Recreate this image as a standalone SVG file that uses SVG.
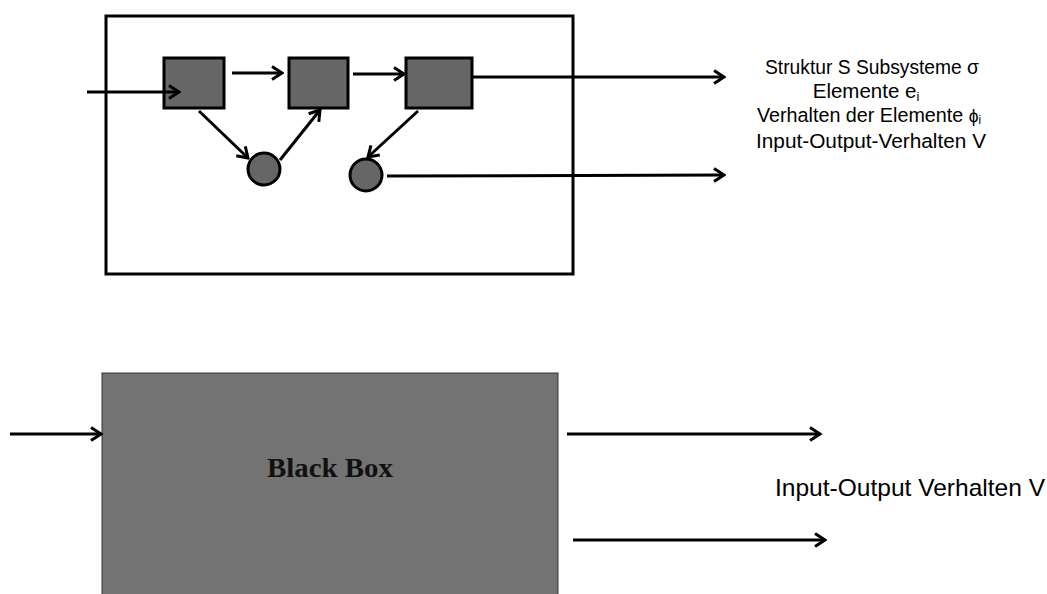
<svg xmlns="http://www.w3.org/2000/svg" width="1047" height="594" viewBox="0 0 1047 594">
<style>
.frame{fill:#fff;stroke:#000;stroke-width:3}
.node{fill:#666;stroke:#000;stroke-width:3}
.con{fill:none;stroke:#000;stroke-width:3;marker-end:url(#arr)}
.lbl{font-family:"Liberation Sans",Arial,sans-serif;font-size:20.5px;fill:#000;text-anchor:middle}
.lbl2{font-family:"Liberation Sans",Arial,sans-serif;font-size:24px;fill:#000}
.bb{font-family:"Liberation Serif","Times New Roman",serif;font-weight:bold;font-size:28px;fill:#111;text-anchor:middle}
</style>
<defs>
<marker id="arr" markerUnits="userSpaceOnUse" viewBox="-12 -8 14 16" markerWidth="14" markerHeight="16" refX="0" refY="0" orient="auto">
<path d="M-10,-6.5 L0,0 L-10,6.5" fill="none" stroke="#000" stroke-width="3"/>
</marker>
</defs>
<rect width="1047" height="594" fill="#fff"/>
<g id="system">
<rect class="frame" x="106" y="16" width="467" height="258"/>
</g>
<g id="s1"><rect class="node" x="164" y="58" width="60" height="50"/></g>
<g id="s2"><rect class="node" x="289" y="58" width="59" height="50"/></g>
<g id="s3"><rect class="node" x="406" y="58" width="66" height="50"/></g>
<g id="c1"><circle class="node" cx="264" cy="169" r="16"/></g>
<g id="c2"><circle class="node" cx="366" cy="175" r="16"/></g>
<g id="blackbox">
<rect x="102" y="373" width="456" height="225" fill="#737373" stroke="#333" stroke-width="1"/>
<text class="bb" x="330" y="477" textLength="126" lengthAdjust="spacingAndGlyphs">Black Box</text>
</g>
<g id="connectors">
<line class="con" x1="87" y1="92" x2="179" y2="92"/>
<line class="con" x1="232" y1="73" x2="282" y2="73"/>
<line class="con" x1="353" y1="74" x2="404" y2="74"/>
<line class="con" x1="472" y1="77" x2="724" y2="77"/>
<line class="con" x1="199" y1="111" x2="248" y2="158"/>
<line class="con" x1="280" y1="160" x2="320" y2="110"/>
<line class="con" x1="418" y1="111" x2="368" y2="157"/>
<line class="con" x1="387" y1="176" x2="724" y2="175"/>
<line class="con" x1="10" y1="434" x2="101" y2="434"/>
<line class="con" x1="567" y1="434" x2="820" y2="434"/>
<line class="con" x1="573" y1="540" x2="825" y2="540"/>
</g>
<g id="labels">
<text class="lbl" x="872" y="74" textLength="214" lengthAdjust="spacingAndGlyphs">Struktur S Subsysteme σ</text>
<text class="lbl" x="866" y="98">Elemente e<tspan font-size="13" dy="3">i</tspan></text>
<text class="lbl" x="869" y="122" textLength="224" lengthAdjust="spacingAndGlyphs">Verhalten der Elemente <tspan font-size="18">ϕ</tspan><tspan font-size="12" dy="2">i</tspan></text>
<text class="lbl" x="871" y="148" textLength="230" lengthAdjust="spacingAndGlyphs">Input-Output-Verhalten V</text>
<text class="lbl2" x="775" y="496" textLength="270" lengthAdjust="spacingAndGlyphs">Input-Output Verhalten V</text>
</g>
</svg>
